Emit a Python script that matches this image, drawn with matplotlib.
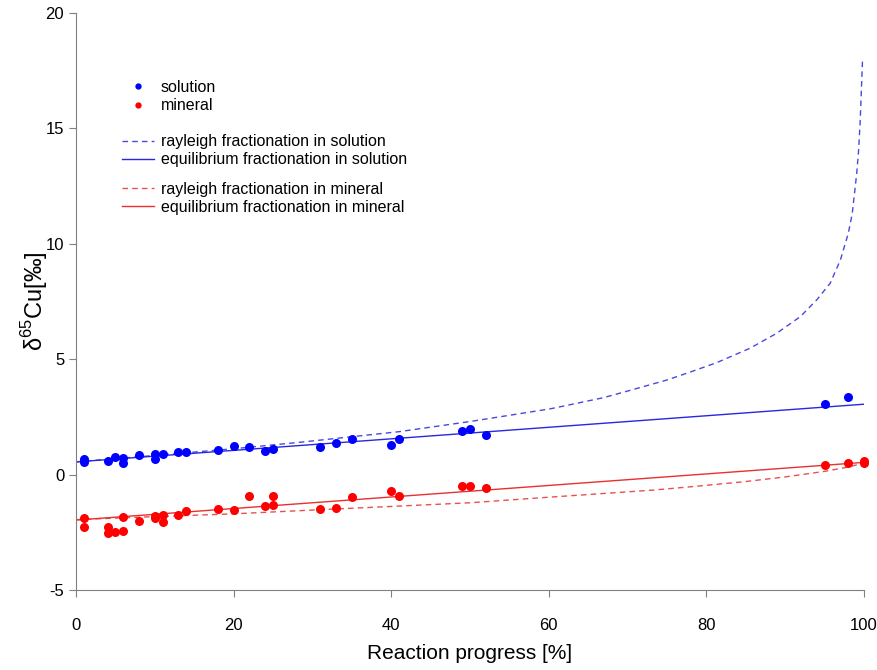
"""
Cu isotope fractionation vs reaction progress — measured data and model curves
"""

import matplotlib.pyplot as plt

plt.rcParams["font.family"] = ["Liberation Sans", "DejaVu Sans"]
plt.rcParams["mathtext.fontset"] = "custom"
plt.rcParams["mathtext.rm"] = "Liberation Sans"
plt.rcParams["axes.unicode_minus"] = False

# measured points
SOL_X = [1, 1, 4, 5, 6, 6, 8, 10, 10, 11, 13, 14, 18, 20, 22, 24, 25,
         31, 33, 35, 40, 41, 49, 50, 52, 95, 98]
SOL_Y = [0.68, 0.53, 0.58, 0.75, 0.71, 0.49, 0.84, 0.89, 0.68, 0.89, 0.99, 0.99, 1.07, 1.24, 1.20, 1.01, 1.11,
         1.21, 1.38, 1.54, 1.28, 1.54, 1.90, 1.98, 1.70, 3.05, 3.35]

MIN_X = [1, 1, 4, 4, 5, 6, 6, 8, 10, 10, 11, 11, 13, 14, 18, 20, 22, 24, 25, 25,
         31, 33, 35, 40, 41, 49, 50, 52, 95, 98, 100, 100]
MIN_Y = [-1.87, -2.26, -2.28, -2.52, -2.49, -1.82, -2.44, -2.03, -1.78, -1.86, -1.74, -2.07, -1.75, -1.56,
         -1.50, -1.53, -0.94, -1.37, -0.93, -1.32,
         -1.50, -1.43, -0.97, -0.70, -0.91, -0.49, -0.51, -0.57, 0.40, 0.49, 0.60, 0.50]

# model curves
RAY_SOL_X = [0, 10, 20, 28.4, 41, 50, 60.2, 66.9, 70, 75, 78, 81.3, 85.5, 88.9, 91.9, 94, 95.7,
             97, 98, 98.5, 99.07, 99.3, 99.5, 99.8]
RAY_SOL_Y = [0.55, 0.83, 1.12, 1.40, 1.86, 2.30, 2.85, 3.33, 3.62, 4.10, 4.45, 4.85, 5.47, 6.12, 6.84, 7.57, 8.29,
             9.30, 10.45, 11.3, 13.05, 14.0, 15.22, 17.9]
EQ_SOL_X = [0, 100]
EQ_SOL_Y = [0.55, 3.05]

RAY_MIN_X = [0, 10, 20, 31, 40, 50, 60, 73.3, 79.2, 85, 90, 95, 98.2, 100]
RAY_MIN_Y = [-1.95, -1.82, -1.70, -1.52, -1.38, -1.22, -0.98, -0.67, -0.49, -0.30, -0.10, 0.14, 0.34, 0.52]
EQ_MIN_X = [0, 100]
EQ_MIN_Y = [-1.97, 0.53]

X_TICKS = [0, 20, 40, 60, 80, 100]
Y_TICKS = [-5, 0, 5, 10, 15, 20]


def plot_fractionation() -> None:
    fig = plt.figure(figsize=(8.78, 6.70), dpi=100)
    ax = fig.add_axes([0.0866, 0.1194, 0.8975, 0.8612])

    blue, red = "#0000ff", "#ff0000"
    ray_sol, = ax.plot(RAY_SOL_X, RAY_SOL_Y, "--", color="#4848e0", lw=1.0, dashes=(4, 3))
    eq_sol, = ax.plot(EQ_SOL_X, EQ_SOL_Y, "-", color="#2828e0", lw=1.0)
    ray_min, = ax.plot(RAY_MIN_X, RAY_MIN_Y, "--", color="#e85050", lw=1.0, dashes=(4, 3))
    eq_min, = ax.plot(EQ_MIN_X, EQ_MIN_Y, "-", color="#e83030", lw=1.0)
    sol, = ax.plot(SOL_X, SOL_Y, "o", color=blue, ms=6.5, mew=0, clip_on=False)
    mine, = ax.plot(MIN_X, MIN_Y, "o", color=red, ms=6.5, mew=0, clip_on=False)

    ax.set_xlim(0, 100)
    ax.set_ylim(-5, 20)
    ax.set_xticks(X_TICKS)
    ax.set_yticks(Y_TICKS)
    for side in ("top", "right"):
        ax.spines[side].set_visible(False)
    for side in ("left", "bottom"):
        ax.spines[side].set_color("#808080")
    ax.tick_params(colors="#808080", labelcolor="black", length=5, labelsize=12)
    ax.tick_params(axis="x", pad=15)

    ax.set_xlabel("Reaction progress [%]", fontsize=15, labelpad=8)
    ax.set_ylabel("δ$^{65}$Cu[‰]", fontsize=17, labelpad=-3)

    kw = dict(frameon=False, fontsize=11.5, handlelength=2.0, handletextpad=0.45,
              labelspacing=0.2, borderpad=0, borderaxespad=0, loc="center left")
    leg1 = ax.legend([sol, mine], ["solution", "mineral"], markerscale=0.7,
                     bbox_to_anchor=(0.058, 0.855), **kw)
    ax.add_artist(leg1)
    leg2 = ax.legend([ray_sol, eq_sol],
                     ["rayleigh fractionation in solution", "equilibrium fractionation in solution"],
                     bbox_to_anchor=(0.058, 0.761), **kw)
    ax.add_artist(leg2)
    ax.legend([ray_min, eq_min],
              ["rayleigh fractionation in mineral", "equilibrium fractionation in mineral"],
              bbox_to_anchor=(0.058, 0.679), **kw)

    fig.savefig("out.png", dpi=100)


if __name__ == "__main__":
    plot_fractionation()
